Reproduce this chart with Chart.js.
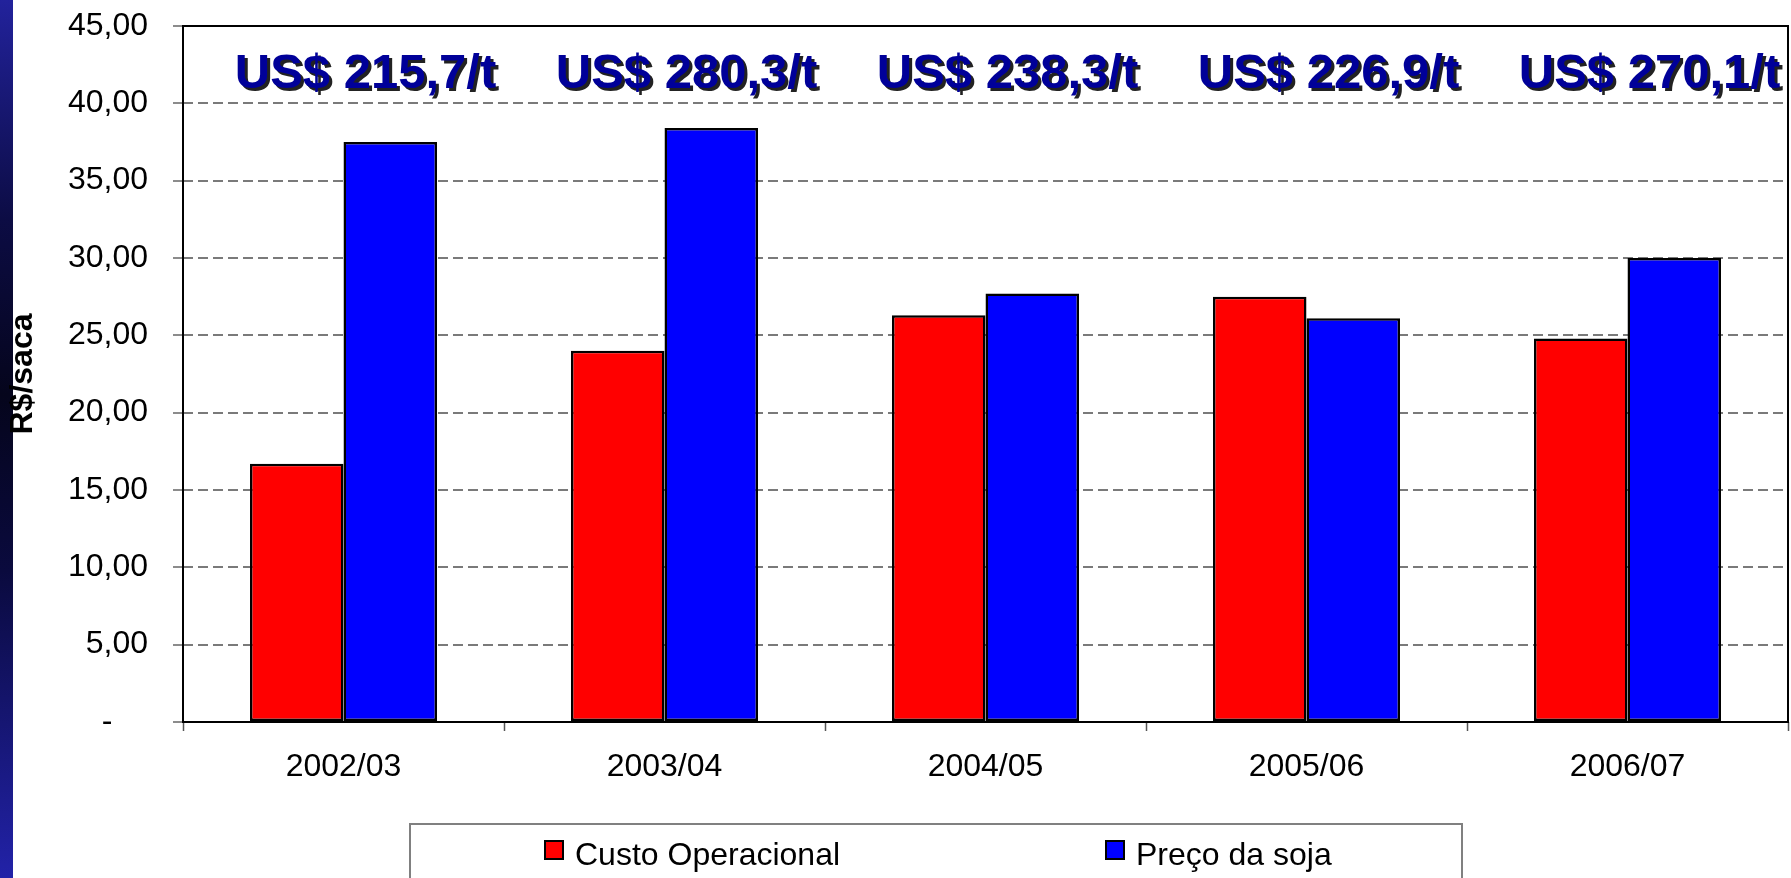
<!DOCTYPE html>
<html lang="pt">
<head>
  <meta charset="UTF-8" />
  <title>Custo Operacional x Preço da soja</title>
  <script src="https://cdn.jsdelivr.net/npm/chart.js"></script>
  <style>
    body {
      margin: 0;
      background: #fff;
      overflow: hidden;
      font-family: "Liberation Sans", Arial, sans-serif;
    }
    .strip {
      position: absolute;
      left: 0;
      top: 0;
      width: 13px;
      height: 878px;
      background: linear-gradient(to bottom, #22229c 0%, #0c0c44 25%, #05051c 45%, #0a0a3e 65%, #2222a8 100%);
    }
    .chart-wrapper {
      position: absolute;
      left: 0;
      top: 0;
      width: 1791px;
      height: 878px;
    }
  </style>
</head>
<body>
  <div class="strip"></div>
  <div class="chart-wrapper">
    <canvas id="costChart"></canvas>
  </div>

  <script>
    const categories = ['2002/03', '2003/04', '2004/05', '2005/06', '2006/07'];
    const custoOperacional = [16.7, 24.0, 26.3, 27.5, 24.8];
    const precoSoja = [37.5, 38.4, 27.7, 26.1, 30.0];
    const usdLabels = ['US$ 215,7/t', 'US$ 280,3/t', 'US$ 238,3/t', 'US$ 226,9/t', 'US$ 270,1/t'];
    const yTickLabels = ['-    ', '5,00', '10,00', '15,00', '20,00', '25,00', '30,00', '35,00', '40,00', '45,00'];

    const FONT = '"Liberation Sans", Arial, sans-serif';

    // frame, US$ labels and boxed legend
    const extras = {
      id: 'extras',
      afterDraw(chart) {
        const ctx = chart.ctx;
        const area = chart.chartArea;
        const x = chart.scales.x;

        ctx.save();
        ctx.strokeStyle = '#000';
        ctx.lineWidth = 2;
        ctx.strokeRect(area.left, area.top, area.right - area.left, area.bottom - area.top);

        ctx.font = 'bold 49px ' + FONT;
        ctx.textAlign = 'center';
        ctx.textBaseline = 'alphabetic';
        usdLabels.forEach((txt, i) => {
          const px = x.getPixelForValue(i) + 22;
          ctx.fillStyle = '#222';
          ctx.fillText(txt, px + 3, 91);
          ctx.fillStyle = '#000099';
          ctx.fillText(txt, px, 88);
        });

        // legend box
        ctx.strokeStyle = '#808080';
        ctx.lineWidth = 2;
        ctx.strokeRect(410, 824, 1052, 100);
        const itemX = [545, 1106];
        ctx.font = '32px ' + FONT;
        ctx.textAlign = 'left';
        chart.data.datasets.forEach((ds, i) => {
          ctx.fillStyle = ds.backgroundColor;
          ctx.fillRect(itemX[i], 841, 18, 18);
          ctx.strokeStyle = '#000';
          ctx.lineWidth = 2;
          ctx.strokeRect(itemX[i], 841, 18, 18);
          ctx.fillStyle = '#000';
          ctx.fillText(ds.label, itemX[i] + 30, 865);
        });
        ctx.restore();
      }
    };

    const ctx = document.getElementById('costChart').getContext('2d');
    new Chart(ctx, {
      type: 'bar',
      data: {
        labels: categories,
        datasets: [{
          label: 'Custo Operacional',
          data: custoOperacional,
          backgroundColor: '#ff0000',
          borderColor: '#000',
          borderWidth: 2.5,
          borderSkipped: false
        }, {
          label: 'Preço da soja',
          data: precoSoja,
          backgroundColor: '#0000ff',
          borderColor: '#000',
          borderWidth: 2.5,
          borderSkipped: false
        }]
      },
      options: {
        responsive: true,
        maintainAspectRatio: false,
        animation: false,
        layout: { padding: { top: 26, right: 3, left: 0, bottom: 0 } },
        datasets: { bar: { categoryPercentage: 0.5826, barPercentage: 1.0 } },
        plugins: {
          legend: { display: false },
          tooltip: { enabled: false }
        },
        scales: {
          x: {
            afterFit(scale) { scale.height = 156; },
            grid: {
              offset: true,
              drawOnChartArea: false,
              drawTicks: true,
              tickLength: 9,
              tickColor: '#555',
              tickWidth: 1.5
            },
            border: { display: false },
            ticks: {
              color: '#000',
              padding: 17,
              font: { family: FONT, size: 32 }
            }
          },
          y: {
            min: 0,
            max: 45,
            afterFit(scale) {
              scale.width = 183;
              // labels may overhang the plot; don't push the area down
              scale.paddingTop = 0;
              scale.paddingBottom = 0;
            },
            ticks: {
              stepSize: 5,
              color: '#000',
              padding: 25,
              font: { family: FONT, size: 32 },
              callback: (value, index) => yTickLabels[index]
            },
            grid: {
              color: (c) => (c.tick && (c.tick.value === 0 || c.tick.value === 45)) ? 'rgba(0,0,0,0)' : '#7a7a7a',
              lineWidth: 2,
              tickLength: 10,
              tickColor: '#666',
              tickWidth: 1.5
            },
            border: { display: false, dash: [10, 5] },
            title: {
              display: true,
              text: 'R$/saca',
              color: '#000',
              padding: { top: 4, bottom: 0 },
              font: { family: FONT, size: 32, weight: 'bold' }
            }
          }
        }
      },
      plugins: [extras]
    });
  </script>
</body>
</html>
